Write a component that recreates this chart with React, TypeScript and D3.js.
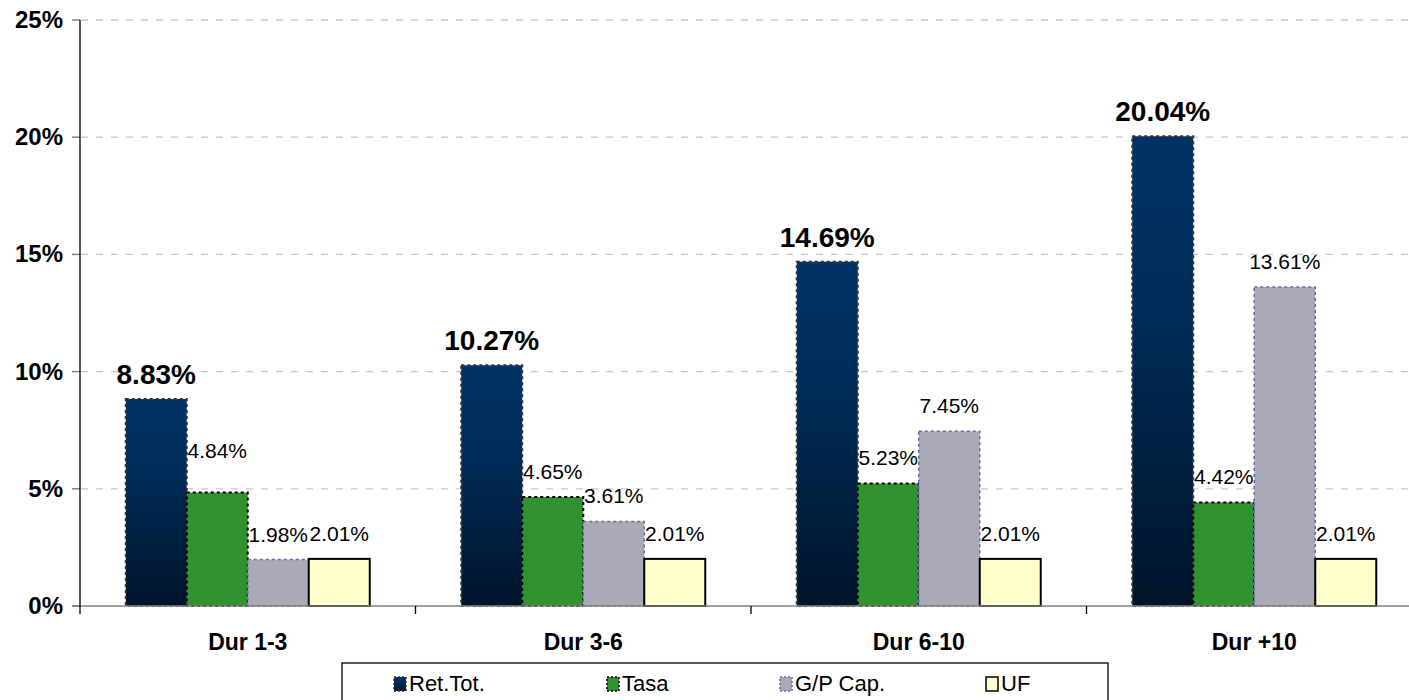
import React from "react";
import * as d3 from "d3";

const categories = ["Dur 1-3", "Dur 3-6", "Dur 6-10", "Dur +10"];
const seriesNames = ["Ret.Tot.", "Tasa", "G/P Cap.", "UF"];
const retTot = [8.83, 10.27, 14.69, 20.04];
const tasa = [4.84, 4.65, 5.23, 4.42];
const gpCap = [1.98, 3.61, 7.45, 13.61];
const uf = [2.01, 2.01, 2.01, 2.01];
const yTicks = [0, 5, 10, 15, 20, 25];
const seriesValues = [retTot, tasa, gpCap, uf];

const W = 1409;
const H = 700;
const FONT = "'Liberation Sans', Arial, Helvetica, sans-serif";

const seriesStyle = [
  { fill: "url(#retGrad)", stroke: "#333333", dash: "3,3", sw: 2 },
  { fill: "#319231", stroke: "#000000", dash: "3,3", sw: 2 },
  { fill: "#a9a9b7", stroke: "#6a6aa8", dash: "3,3", sw: 1.5 },
  { fill: "#ffffcc", stroke: "#000000", dash: null, sw: 2 },
];

export default function App() {
  const x0 = d3.scaleBand<string>().domain(categories).range([80, 80 + 4 * 335.5]).padding(0);
  const bw0 = x0.bandwidth();
  const x1 = d3.scaleBand<string>().domain(seriesNames).range([45.75, bw0 - 45.75]).padding(0);
  const y = d3.scaleLinear().domain([0, 25]).range([606, 20]);
  const bw = x1.bandwidth();

  const legendX = [394, 607, 780, 986];

  return (
    <svg width={W} height={H} style={{ position: "absolute", left: 0, top: 0, background: "#fff" }} fontFamily={FONT}>
      <defs>
        <linearGradient id="retGrad" x1="0" y1="0" x2="0" y2="1">
          <stop offset="0" stopColor="#003366" />
          <stop offset="0.35" stopColor="#002d5a" />
          <stop offset="1" stopColor="#00142a" />
        </linearGradient>
      </defs>
      {/* grid */}
      {yTicks.filter((t) => t > 0).map((t) => (
        <line key={"g" + t} x1={81} x2={W} y1={y(t)} y2={y(t)} stroke="#c8c8c8" strokeWidth={1.3} strokeDasharray="7,8" />
      ))}
      {/* y ticks & labels */}
      {yTicks.map((t) => (
        <g key={"yt" + t}>
          <line x1={72} x2={80} y1={y(t)} y2={y(t)} stroke="#808080" strokeWidth={1.5} />
          <text x={63} y={y(t) + 8} textAnchor="end" fontSize={24} fontWeight="bold" fill="#000">
            {t}%
          </text>
        </g>
      ))}
      {/* bars */}
      {categories.map((c, ci) => (
        <g key={c} transform={`translate(${x0(c)},0)`}>
          {seriesNames.map((s, si) => {
            const v = seriesValues[si][ci];
            const st = seriesStyle[si];
            const bx = x1(s)!;
            const by = y(v);
            const bh = y(0) - by;
            return (
              <rect
                key={s}
                x={bx}
                y={by}
                width={bw}
                height={bh}
                fill={st.fill}
                stroke={st.stroke}
                strokeWidth={st.sw}
                strokeDasharray={st.dash ?? undefined}
              />
            );
          })}
        </g>
      ))}
      {/* data labels */}
      {categories.map((c, ci) => (
        <g key={"l" + c} transform={`translate(${x0(c)},0)`}>
          {seriesNames.map((s, si) => {
            const v = seriesValues[si][ci];
            const cx = x1(s)! + bw / 2;
            const top = y(v);
            if (si === 0) {
              return (
                <text key={s} x={cx} y={top - 15} textAnchor="middle" fontSize={28} fontWeight="bold" fill="#000">
                  {v.toFixed(2)}%
                </text>
              );
            }
            const nudge = si === 1 && ci === 0 ? 17 : 0;
            return (
              <text key={s} x={cx} y={top - 18 - nudge} textAnchor="middle" fontSize={21} fill="#000">
                {v.toFixed(2)}%
              </text>
            );
          })}
        </g>
      ))}
      {/* axes */}
      <line x1={72} x2={W} y1={y(0)} y2={y(0)} stroke="#808080" strokeWidth={1.5} />
      <line x1={80} x2={80} y1={y(25)} y2={614} stroke="#000" strokeWidth={1.3} />
      {categories.slice(1).map((c) => (
        <line key={"xt" + c} x1={x0(c)!} x2={x0(c)!} y1={y(0)} y2={614} stroke="#000" strokeWidth={1.3} />
      ))}
      {categories.map((c) => (
        <text key={"xl" + c} x={x0(c)! + bw0 / 2} y={650} textAnchor="middle" fontSize={23} fontWeight="bold" fill="#000">
          {c}
        </text>
      ))}
      {/* legend */}
      <rect x={342} y={663} width={766} height={60} fill="#fff" stroke="#000" strokeWidth={1.3} />
      {seriesNames.map((s, si) => {
        const st = seriesStyle[si];
        const lx = legendX[si];
        return (
          <g key={"lg" + s}>
            <rect x={lx} y={677} width={12} height={14} fill={st.fill} stroke={st.stroke} strokeWidth={1.5} strokeDasharray={st.dash ? "2,2" : undefined} />
            <text x={lx + 15} y={691} fontSize={22} fill="#000">
              {s}
            </text>
          </g>
        );
      })}
    </svg>
  );
}
